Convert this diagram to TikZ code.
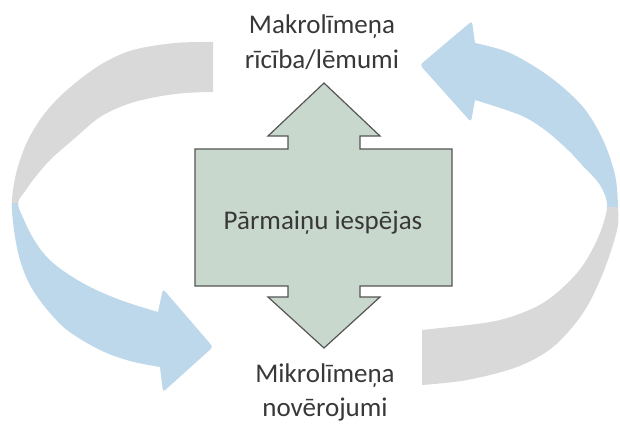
\documentclass[tikz,border=0pt]{standalone}
\usepackage{fontspec}
\setmainfont{Carlito}
\definecolor{bandgray}{HTML}{D9D9D9}
\definecolor{bandblue}{HTML}{BDD7EB}
\definecolor{boxgreen}{HTML}{C8D8CC}
\definecolor{edgegray}{HTML}{555555}
\definecolor{textgray}{HTML}{383838}
\tikzset{
  caption/.style={font=\fontsize{27}{35}\selectfont, text=textgray, inner sep=0pt, anchor=base},
  hub/.style={fill=boxgreen, draw=edgegray, line width=1.2pt, line join=miter}
}
\begin{document}
\begin{tikzpicture}[x=1pt,y=-1pt]
\useasboundingbox (0,0) rectangle (620,423);
\fill[white] (0,0) rectangle (620,423);

% left curved band: grey tail at the top, blue head at the bottom
\def\leftband{plot[smooth,tension=0.55] coordinates {(213,42) (175,43) (133,50) (100,65) (67,90) (45,113) (28,140) (17,170) (12,200) (14,230) (20,260) (30,285) (45,307) (67,330) (100,350) (130,361) (160,367)}
  [rounded corners=3pt] -- (163,392) -- (213,347) -- (163,289) [sharp corners]
  -- plot[smooth,tension=0.55] coordinates {(158,312) (123,301) (90,287) (62,270) (45,255) (33,238) (24,220) (18,203) (26,190) (33,180) (50,160) (75,138) (100,117) (128,104) (156,97) (185,93) (213,92)} -- cycle}
\begin{scope}
  \clip (0,0) rectangle (320,203);
  \fill[bandgray] \leftband;
\end{scope}
\begin{scope}
  \clip (0,203) rectangle (320,423);
  \fill[bandblue] \leftband;
\end{scope}

% right curved band: grey tail at the bottom, blue head at the top
\def\rightband{plot[smooth,tension=0.55] coordinates {(475,43) (510,53) (550,77) (583,107) (603,140) (615,175) (618,207) (617,230) (603,273) (583,313) (553,347) (517,367) (467,380) (422,385)}
  -- (422,330)
  -- plot[smooth,tension=0.55] coordinates {(450,327) (500,320) (543,303) (577,273) (597,240) (607,207) (600,185) (582,165) (568,150) (545,130) (520,115) (475,100)}
  [rounded corners=3pt] -- (471,122) -- (420,65) -- (472,21) [sharp corners] -- cycle}
\begin{scope}
  \clip (320,0) rectangle (620,207);
  \fill[bandblue] \rightband;
\end{scope}
\begin{scope}
  \clip (320,207) rectangle (620,423);
  \fill[bandgray] \rightband;
\end{scope}

% central double-headed box
\draw[hub] (324,83) -- (380,136) -- (360,136) -- (360,149) -- (452,149) -- (452,286)
  -- (360,286) -- (360,297) -- (380,297) -- (324,348) -- (268,297) -- (288,297)
  -- (288,286) -- (195,286) -- (195,149) -- (288,149) -- (288,136) -- (268,136) -- cycle;

\node[caption] (macroA) at (322,33) {Makrolīmeņa};
\node[caption] (macroB) at (322,68) {rīcība/lēmumi};
\node[caption] (centre) at (323,229) {Pārmaiņu iespējas};
\node[caption] (microA) at (325,382) {Mikrolīmeņa};
\node[caption] (microB) at (325,416) {novērojumi};
\end{tikzpicture}
\end{document}
